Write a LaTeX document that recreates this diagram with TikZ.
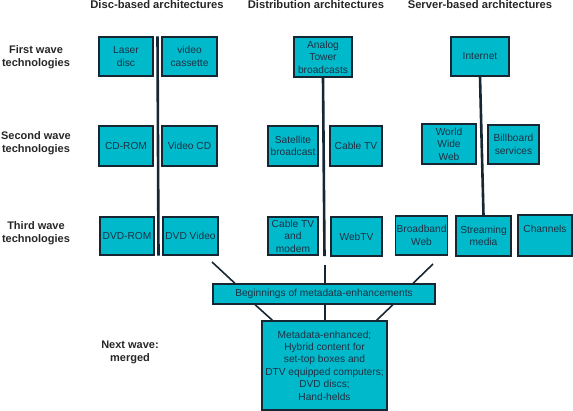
\documentclass[tikz,border=0pt]{standalone}
\usepackage{fontspec}
\setmainfont{Liberation Sans}
\usepackage{tikz}
\usetikzlibrary{
  positioning,
  calc
}
\definecolor{techcyan}{RGB}{0,186,204}
\definecolor{boxedge}{RGB}{22,38,50}
\definecolor{boxtext}{RGB}{30,48,66}

\begin{document}
\begin{tikzpicture}[
  x=1pt, y=-1pt,
  techbox/.style={
    draw=boxedge,
    fill=techcyan,
    line width=1.2pt,
    font=\fontsize{10.2}{12.4}\selectfont,
    text=boxtext,
    inner sep=1pt,
    align=center
  },
  colhead/.style={
    font=\fontsize{11.2}{13}\selectfont\bfseries,
    text=black!85
  },
  rowhead/.style={
    font=\fontsize{11}{13}\selectfont\bfseries,
    text=black!85,
    align=center
  },
  divider/.style={
    line width=2.6pt,
    boxedge
  },
  merge/.style={
    line width=1.6pt,
    boxedge
  }
]
  \useasboundingbox (0,0) rectangle (573,411);

  % Column headings
  \node[colhead] (hdisc) at (157, 5) {Disc-based architectures};
  \node[colhead] (hdist) at (316, 5) {Distribution architectures};
  \node[colhead] (hserv) at (480, 5) {Server-based architectures};

  % Row headings
  \node[rowhead] (first) at (36, 57) {First wave\\technologies};
  \node[rowhead] (second) at (36, 143.5) {Second wave\\technologies};
  \node[rowhead] (third) at (36, 233.5) {Third wave\\technologies};
  \node[rowhead] (next) at (130, 352) {Next wave:\\merged};

  % Disc-based boxes
  \node[techbox, minimum width=54pt, minimum height=39pt] (laser) at (126, 56.5) {Laser\\disc};
  \node[techbox, minimum width=55pt, minimum height=39pt] (cassette) at (189.5, 56.5) {video\\cassette};
  \node[techbox, minimum width=54pt, minimum height=40pt] (cdrom) at (126, 146) {CD-ROM};
  \node[techbox, minimum width=55pt, minimum height=40pt] (videocd) at (189.5, 146) {Video CD};
  \node[techbox, minimum width=54pt, minimum height=38pt] (dvdrom) at (127, 236) {DVD-ROM};
  \node[techbox, minimum width=55pt, minimum height=38pt] (dvdvideo) at (190.5, 236) {DVD Video};

  % Distribution boxes
  \node[techbox, minimum width=58pt, minimum height=40pt] (analog) at (323, 57) {Analog\\Tower\\broadcasts};
  \node[techbox, minimum width=50pt, minimum height=40pt] (satellite) at (293, 146) {Satellite\\broadcast};
  \node[techbox, minimum width=52pt, minimum height=40pt] (cabletv) at (356, 146) {Cable TV};
  \node[techbox, minimum width=50pt, minimum height=38pt] (cablemodem) at (293, 236) {Cable TV\\and\\modem};
  \node[techbox, minimum width=51pt, minimum height=39pt] (webtv) at (356.5, 236.5) {WebTV};

  % Server-based boxes
  \node[techbox, minimum width=58pt, minimum height=39pt] (internet) at (480, 56.5) {Internet};
  \node[techbox, minimum width=54pt, minimum height=40pt] (www) at (449, 144) {World\\Wide\\Web};
  \node[techbox, minimum width=51pt, minimum height=39pt] (billboard) at (513.5, 144.5) {Billboard\\services};
  \node[techbox, minimum width=51pt, minimum height=39pt] (broadband) at (421.5, 235.5) {Broadband\\Web};
  \node[techbox, minimum width=55pt, minimum height=40pt] (streaming) at (483.5, 236) {Streaming\\media};
  \node[techbox, minimum width=54pt, minimum height=41pt] (channels) at (545, 235.5) {Channels\\[1pt]};

  % Merging boxes
  \node[techbox, minimum width=222pt, minimum height=20pt] (beginnings) at (324, 294) {Beginnings of metadata-enhancements};
  \node[techbox, minimum width=125pt, minimum height=89pt] (merged) at (324.5, 365.5)
    {Metadata-enhanced;\\Hybrid content for\\set-top boxes and\\DTV equipped computers;\\DVD discs;\\Hand-helds};

  % Column dividers
  \draw[divider] ($(laser.north east)!.5!(cassette.north west)$) -- ($(dvdrom.south east)!.5!(dvdvideo.south west)$);
  \draw[divider] (analog.south) -- ($(cablemodem.south east)!.5!(webtv.south west)$);
  \draw[divider] (internet.south) -- (streaming.north);

  % Feeds into metadata-enhancements
  \coordinate (discfeed) at (212, 262);
  \coordinate (distfeed) at (325, 265);
  \coordinate (servfeed) at (433, 264);
  \draw[merge] (discfeed) -- ([xshift=-89pt]beginnings.north);
  \draw[merge] (distfeed) -- (distfeed |- beginnings.north);
  \draw[merge] (servfeed) -- ([xshift=89pt]beginnings.north);

  \draw[merge] ([xshift=-69pt]beginnings.south) -- ([xshift=-52pt]merged.north);
  \draw[merge] ([xshift=1pt]beginnings.south) -- ([xshift=0.5pt]merged.north);
  \draw[merge] ([xshift=69pt]beginnings.south) -- ([xshift=52pt]merged.north);
\end{tikzpicture}
\end{document}
